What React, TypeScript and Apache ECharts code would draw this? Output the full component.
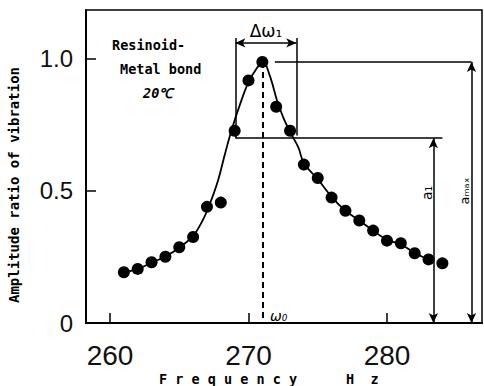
import React, { useEffect, useRef } from "react";
import * as echarts from "echarts";

// Measured points (frequency Hz, amplitude ratio)
const freqs = [261, 262, 263, 264, 265, 266, 267, 268, 269, 270, 271, 272, 273, 274, 275, 276, 277, 278, 279, 280, 281, 282, 283, 284];
const amps = [0.192, 0.205, 0.23, 0.251, 0.287, 0.326, 0.44, 0.456, 0.728, 0.919, 0.989, 0.819, 0.728, 0.6, 0.549, 0.475, 0.425, 0.388, 0.35, 0.312, 0.302, 0.264, 0.241, 0.226];

// Hand-drawn resonance curve
const curveX = [261, 262, 263, 264, 265, 266, 266.7, 267.2, 267.8, 268.3, 268.8, 269.4, 270, 270.6, 271.05, 271.55, 272.05, 272.5, 273, 273.6, 274, 275, 276, 277, 278, 279, 280, 281, 282, 283, 283.3];
const curveY = [0.19, 0.205, 0.228, 0.252, 0.285, 0.33, 0.39, 0.45, 0.54, 0.64, 0.735, 0.83, 0.912, 0.965, 0.99, 0.935, 0.845, 0.78, 0.724, 0.665, 0.605, 0.545, 0.478, 0.425, 0.388, 0.35, 0.315, 0.298, 0.265, 0.24, 0.232];

const xTicks = [260, 270, 280];
const yTicks = [0, 0.5, 1.0];

// Annotation values (data units)
const peakFreq = 271.0;
const peakAmp = 0.989;
const halfAmp = 0.7;
const bwLeft = 269.05;
const bwRight = 273.45;
const bwTop = 1.08;
const bwArrowY = 1.061;
const a1X = 283.35;
const amaxX = 286.1;

export default function App() {
  const ref = useRef<HTMLDivElement>(null);
  useEffect(() => {
    if (!ref.current) return;
    const chart = echarts.init(ref.current, null, { renderer: "svg" });
    const black = "#000";
    const ann = { color: black, width: 1.5, type: "solid" as const };
    const seg = (x1: number, y1: number, x2: number, y2: number, s1: string, s2: string, style: any = ann) => [
      { coord: [x1, y1], symbol: s1, lineStyle: style },
      { coord: [x2, y2], symbol: s2 },
    ];
    const monoBold = { fontFamily: "DejaVu Sans Mono", fontWeight: "bold" as const, fontSize: 13.5, fill: black };
    chart.setOption({
      animation: false,
      backgroundColor: "#fff",
      grid: { left: 86, right: 2, top: 10, bottom: 63, show: true, borderColor: black, borderWidth: 1.5 },
      xAxis: {
        type: "value",
        min: 258.267,
        max: 286.86,
        axisLine: { show: true, lineStyle: { color: black, width: 2 } },
        axisTick: { show: true, inside: true, length: 10, customValues: xTicks, lineStyle: { color: black, width: 1.5 } },
        axisLabel: { customValues: xTicks, margin: 18, fontSize: 28, fontFamily: "Liberation Sans", color: "#111" },
        splitLine: { show: false },
      },
      yAxis: {
        type: "value",
        min: 0,
        max: 1.1856,
        axisLine: { show: true, lineStyle: { color: black, width: 2 } },
        axisTick: { show: true, inside: true, length: 10, customValues: yTicks, lineStyle: { color: black, width: 1.5 } },
        axisLabel: {
          customValues: yTicks,
          margin: 13,
          fontSize: 24,
          fontFamily: "Liberation Sans",
          color: "#111",
          formatter: (v: number) => (v === 0 ? "0" : v.toFixed(1)),
        },
        splitLine: { show: false },
      },
      series: [
        {
          type: "line",
          data: curveX.map((x, i) => [x, curveY[i]]),
          smooth: 0.35,
          showSymbol: false,
          lineStyle: { color: black, width: 1.8 },
          silent: true,
          z: 2,
        },
        {
          type: "scatter",
          data: freqs.map((f, i) => [f, amps[i]]),
          symbolSize: 12,
          itemStyle: { color: black, opacity: 1 },
          z: 3,
          markLine: {
            silent: true,
            symbolSize: [7, 10],
            label: { show: false },
            emphasis: { disabled: true },
            data: [
              seg(bwLeft, bwTop, bwLeft, halfAmp, "none", "none"),
              seg(bwRight, bwTop, bwRight, 0.71, "none", "none"),
              seg(bwLeft, bwArrowY, bwRight, bwArrowY, "arrow", "arrow"),
              seg(271.9, peakAmp, amaxX, peakAmp, "none", "none"),
              seg(bwLeft, halfAmp, 284.0, halfAmp, "none", "none"),
              seg(peakFreq, peakAmp, peakFreq, 0, "none", "none", { color: black, width: 2, type: [6, 4] }),
              seg(a1X, halfAmp, a1X, 0, "arrow", "arrow"),
              seg(amaxX, peakAmp, amaxX, 0, "arrow", "arrow"),
            ],
          },
        },
      ],
      graphic: [
        { type: "text", x: 112, y: 45, style: { ...monoBold, text: "Resinoid-", verticalAlign: "middle" } },
        { type: "text", x: 120, y: 69, style: { ...monoBold, text: "Metal bond", verticalAlign: "middle" } },
        { type: "text", x: 143, y: 93, style: { ...monoBold, text: "20℃", verticalAlign: "middle", fontStyle: "italic" } },
        { type: "text", x: 266, y: 31, style: { text: "Δω₁", fontSize: 17, fontFamily: "DejaVu Sans", fill: black, align: "center", verticalAlign: "middle" } },
        { type: "text", x: 270, y: 316, style: { text: "ω₀", fontSize: 14, fontStyle: "italic", fontFamily: "DejaVu Sans", fill: black, verticalAlign: "middle" } },
        { type: "text", x: 427, y: 193, rotation: Math.PI / 2, style: { text: "a₁", fontSize: 14, fontFamily: "DejaVu Sans", fill: black, align: "center", verticalAlign: "middle" } },
        { type: "text", x: 464, y: 191, rotation: Math.PI / 2, style: { text: "aₘₐₓ", fontSize: 13, fontFamily: "DejaVu Sans", fill: black, align: "center", verticalAlign: "middle" } },
        { type: "text", x: 14, y: 185, rotation: Math.PI / 2, style: { ...monoBold, fontSize: 14, text: "Amplitude ratio of vibration", align: "center", verticalAlign: "middle" } },
        { type: "text", x: 159, y: 379, style: { ...monoBold, fontSize: 13.5, text: "F r e q u e n c y", verticalAlign: "middle" } },
        { type: "text", x: 346, y: 379, style: { ...monoBold, fontSize: 13.5, text: "H  z", verticalAlign: "middle" } },
      ],
    });
    return () => chart.dispose();
  }, []);
  return <div ref={ref} style={{ width: 484, height: 386, position: "absolute", left: 0, top: 0 }} />;
}
